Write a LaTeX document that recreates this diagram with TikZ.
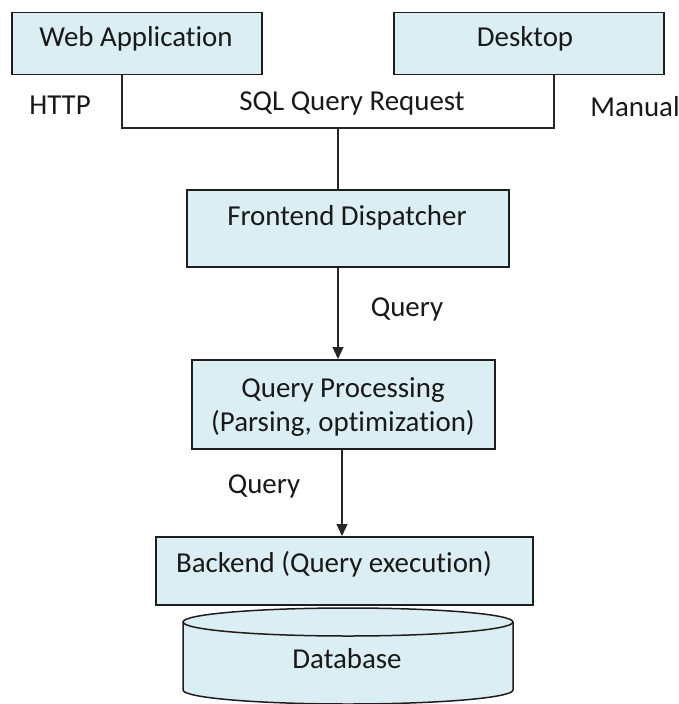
\documentclass[tikz,border=0pt]{standalone}
\usepackage{fontspec}
\setmainfont{Carlito}[Ligatures={NoCommon}]
\usetikzlibrary{arrows.meta}
\definecolor{boxfill}{RGB}{219,238,243}
\definecolor{boxline}{RGB}{30,30,30}
\begin{document}
\begin{tikzpicture}[x=1bp,y=-1bp,
  boxstyle/.style={draw=boxline, fill=boxfill, line width=1.5bp, inner sep=0pt, anchor=north west},
  lbl/.style={anchor=base, inner sep=0pt, font=\fontsize{29}{35}\selectfont, text=black!90},
  conn/.style={draw=black!85, line width=1.3bp},
  arr/.style={conn, -{Triangle[width=11bp,length=12bp]}}]
\useasboundingbox (0,0) rectangle (679,704);
\fill[white] (0,0) rectangle (679,704);
% boxes
\node[boxstyle, minimum width=250bp, minimum height=62bp] (web) at (11,12) {};
\node[boxstyle, minimum width=270bp, minimum height=62bp] (desk) at (393,12) {};
\node[boxstyle, minimum width=322bp, minimum height=77bp] (fd) at (186,189) {};
\node[boxstyle, minimum width=303bp, minimum height=89bp] (qp) at (191,359) {};
\node[boxstyle, minimum width=377bp, minimum height=68bp] (be) at (155,536) {};
% database cylinder
\path[fill=boxfill, draw=boxline, line width=1.5bp] (183,622) -- (183,690)
  arc[start angle=180, end angle=0, x radius=165, y radius=14] -- (513,622);
\draw[fill=boxfill, draw=boxline, line width=1.5bp] (348,622) ellipse [x radius=165, y radius=14];
% connectors
\coordinate (jl) at (122,128);
\coordinate (jr) at (554,128);
\coordinate (jm) at (338,128);
\draw[conn] (web.south -| jl) -- (jl) -- (jr) -- (desk.south -| jr);
\draw[conn] (jm) -- (jm |- fd.north);
\coordinate (a1) at (338,300);
\draw[arr] (fd.south -| a1) -- (qp.north -| a1);
\coordinate (a2) at (342,490);
\draw[arr] (qp.south -| a2) -- (be.north -| a2);
% texts
\node[lbl] (webt) at (136,47) {Web Application};
\node[lbl] (deskt) at (525,47) {Desktop};
\node[lbl] (http) at (60,115) {HTTP};
\node[lbl] (sql) at (352,111) {SQL Query Request};
\node[lbl] (man) at (635,117) {Manual};
\node[lbl] (fdt) at (347,225) {Frontend Dispatcher};
\node[lbl] (q1) at (407,316) {Query};
\node[lbl] (qp1) at (343,397) {Query Processing};
\node[lbl] (qp2) at (343,431) {(Parsing, optimization)};
\node[lbl] (q2) at (264,493) {Query};
\node[lbl] (bet) at (334,572) {Backend (Query execution)};
\node[lbl] (dbt) at (347,668) {Database};
\end{tikzpicture}
\end{document}
